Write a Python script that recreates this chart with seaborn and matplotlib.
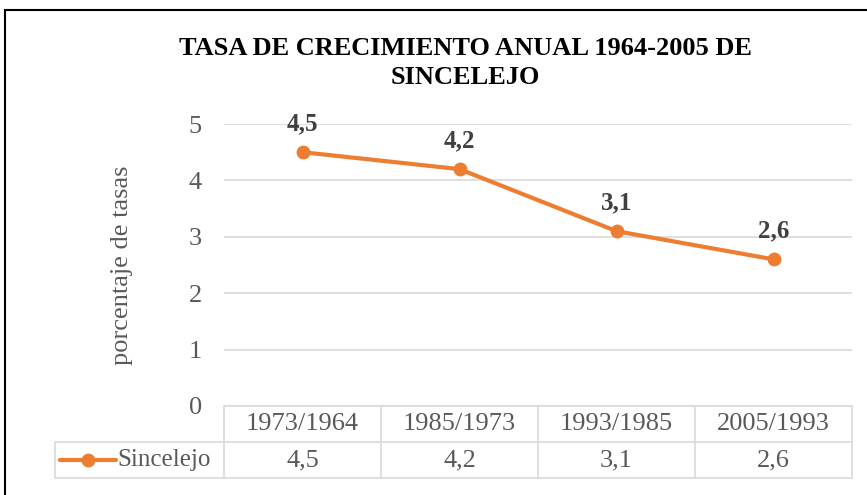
import matplotlib.pyplot as plt
import seaborn as sns
from matplotlib.lines import Line2D
from matplotlib.patches import Rectangle

# Data
periods = ['1973/1964', '1985/1973', '1993/1985', '2005/1993']
rates = [4.5, 4.2, 3.1, 2.6]
rate_labels = ['4,5', '4,2', '3,1', '2,6']
series_name = 'Sincelejo'
yticks = [0, 1, 2, 3, 4, 5]

ORANGE = '#ED7D31'
GREY = '#595959'
GRID = '#D9D9D9'

sns.set_theme(style='white')
plt.rcParams['font.family'] = ['Liberation Serif', 'DejaVu Serif']

W, H = 867, 495
fig = plt.figure(figsize=(W / 100, H / 100), dpi=100)


def fx(px):
    return px / W


def fy(py):
    return 1 - py / H


ax = fig.add_axes([fx(224), fy(406), fx(852) - fx(224), fy(124) - fy(406)])

pos = list(range(len(periods)))
sns.lineplot(x=pos, y=rates, ax=ax, color=ORANGE, linewidth=3, marker='o',
             markersize=10, markeredgewidth=0, zorder=3)

for x, y, lab in zip(pos, rates, rate_labels):
    ax.annotate(lab, (x, y), xytext=(0, 12), textcoords='offset points',
                ha='center', va='bottom', fontsize=18, fontweight='bold',
                color='#404040')

ax.set_xlim(-0.5, len(periods) - 0.5)
ax.set_ylim(0, 5)
ax.set_yticks(yticks)
ax.set_yticklabels([str(t) for t in yticks], fontsize=19, color=GREY)
ax.tick_params(axis='y', length=0, pad=16)
ax.set_xticks([])
for s in ax.spines.values():
    s.set_visible(False)
ax.grid(axis='y', color=GRID, linewidth=1.2)
ax.grid(axis='x', visible=False)
ax.set_ylabel('porcentaje de tasas', fontsize=19, color=GREY, labelpad=40)
ax.set_facecolor('none')

# title
fig.text(fx(465), fy(63), 'TASA DE CRECIMIENTO ANUAL 1964-2005 DE\nSINCELEJO',
         ha='center', va='center', fontsize=19, fontweight='bold',
         linespacing=1.35, color='black')

# data table under the axis
edges = [224 + i * 157 for i in range(len(periods) + 1)]
row0, row1, row2 = 406, 442, 478
tl = dict(color=GRID, linewidth=1.2, transform=fig.transFigure)
fig.add_artist(Line2D([fx(224), fx(852)], [fy(row0)] * 2, **tl))
fig.add_artist(Line2D([fx(55), fx(852)], [fy(row1)] * 2, **tl))
fig.add_artist(Line2D([fx(55), fx(852)], [fy(row2)] * 2, **tl))
fig.add_artist(Line2D([fx(55), fx(55)], [fy(row1), fy(row2)], **tl))
for e in edges:
    fig.add_artist(Line2D([fx(e), fx(e)], [fy(row0), fy(row2)], **tl))

for i, (p, lab) in enumerate(zip(periods, rate_labels)):
    cx = (edges[i] + edges[i + 1]) / 2
    fig.text(fx(cx), fy((row0 + row1) / 2), p, ha='center', va='center',
             fontsize=19, color=GREY)
    fig.text(fx(cx), fy((row1 + row2) / 2), lab, ha='center', va='center',
             fontsize=19, color=GREY)

# legend key in the table
ky = fy((row1 + row2) / 2)
fig.add_artist(Line2D([fx(60), fx(116)], [ky, ky], color=ORANGE, linewidth=3,
                      transform=fig.transFigure))
fig.add_artist(Line2D([fx(88)], [ky], color=ORANGE, marker='o', markersize=10,
                      markeredgewidth=0, transform=fig.transFigure))
fig.text(fx(117), ky, series_name, ha='left', va='center', fontsize=18,
         color=GREY)

# outer chart border
fig.add_artist(Rectangle((fx(5), fy(500)), fx(880) - fx(5), fy(10) - fy(500),
                         fill=False, edgecolor='black', linewidth=1.5,
                         transform=fig.transFigure))

fig.savefig('out.png', dpi=100)
